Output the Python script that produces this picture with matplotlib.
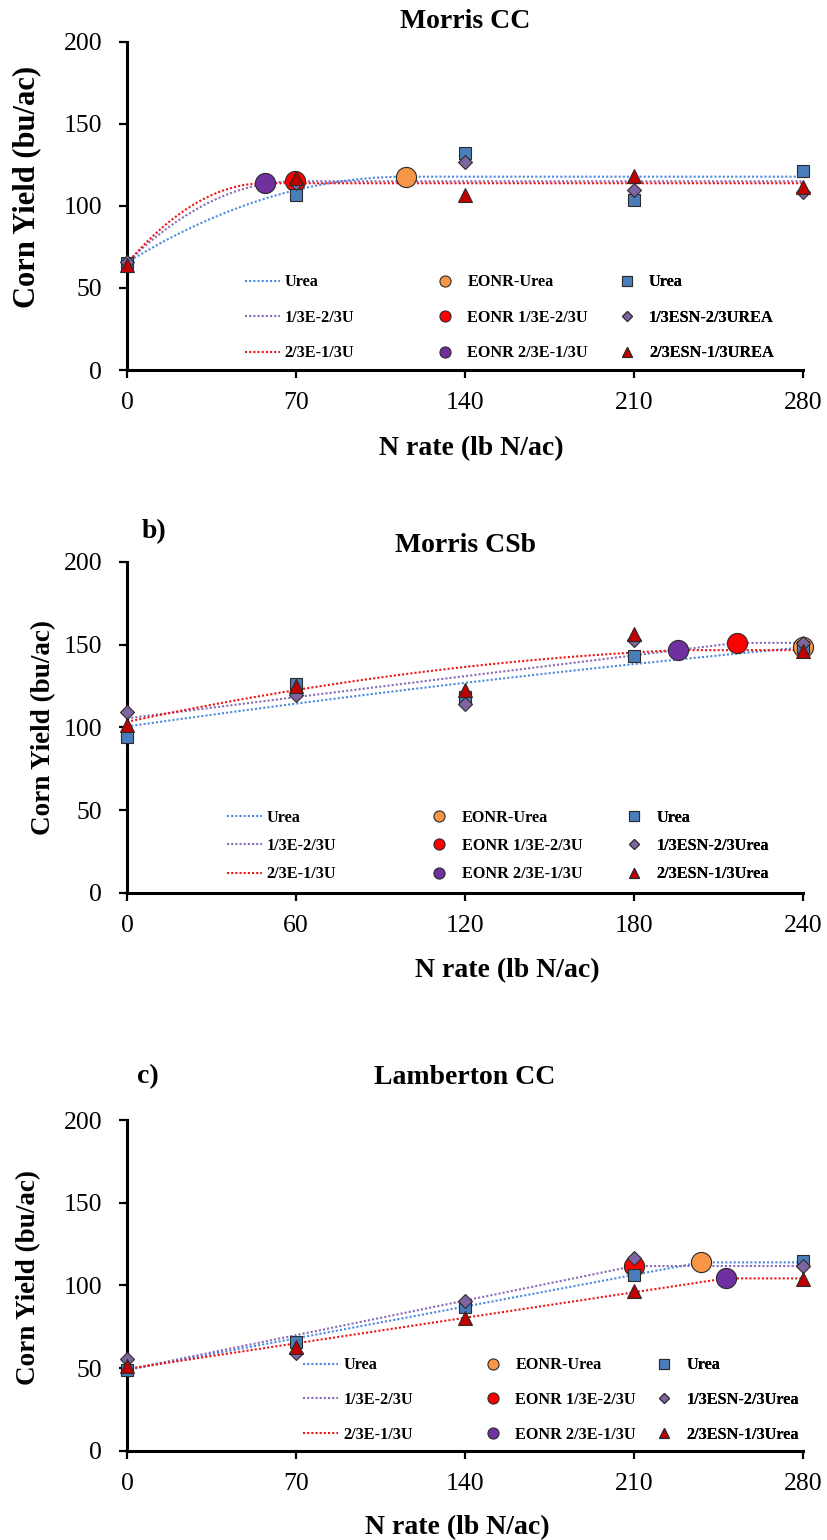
import numpy as np
import matplotlib
matplotlib.use('Agg')
import matplotlib.pyplot as plt
from matplotlib.lines import Line2D

plt.rcParams['font.family'] = ['Liberation Serif', 'DejaVu Serif']

# N rates and yields (bu/ac) by site
rates_a = [0, 70, 140, 210, 280]
urea_a = [65.5, 106.7, 132.3, 103.5, 121.4]
esn13_a = [66.0, 114.0, 126.5, 109.7, 108.7]
esn23_a = [64.0, 116.8, 106.7, 118.2, 111.4]

rates_b = [0, 60, 120, 180, 240]
urea_b = [93.9, 125.9, 118.4, 143.2, 148.3]
esn13_b = [109.4, 119.5, 114.0, 153.0, 150.7]
esn23_b = [101.3, 125.0, 122.5, 156.3, 146.0]

rates_c = [0, 70, 140, 210, 280]
urea_c = [48.8, 65.9, 87.1, 106.3, 114.7]
esn13_c = [55.4, 58.9, 90.5, 116.3, 111.7]
esn23_c = [51.2, 62.5, 80.0, 96.8, 103.6]

# quadratic-plateau fits, order: Urea, 1/3E-2/3U, 2/3E-1/3U
# yield = a + b*N + c*N^2 up to the join (EONR), flat after it
fit_a_int = [65.5, 65.5, 65.0]
fit_a_lin = [0.9049, 1.42447, 1.71228]
fit_a_quad = [-0.003914, -0.010248, -0.015020]
eonr_a = [115.6, 69.5, 57.0]

fit_b_int = [100.5, 105.4, 103.3]
fit_b_lin = [0.24, 0.2148, 0.3636]
fit_b_quad = [-0.00017, -0.0000191, -0.000727]
eonr_b = [240.0, 216.5, 195.5]

fit_c_int = [48.8, 49.0, 49.5]
fit_c_lin = [0.274, 0.2986, 0.2206]
fit_c_quad = [0.0, 0.0, 0.0]
eonr_c = [237.6, 210.0, 248.0]

fit_names = ['Urea', '1/3E-2/3U', '2/3E-1/3U']
eonr_names = ['EONR-Urea', 'EONR 1/3E-2/3U', 'EONR 2/3E-1/3U']

line_colors = ['#4A8BDF', '#8A6BB5', '#F01414']
eonr_colors = ['#F79646', '#FF0000', '#7030A0']
pt_colors = ['#4A7EBB', '#8064A2', '#C00000']
pt_markers = ['s', 'D', '^']
pt_sizes = [9, 7, 10]
leg_sizes = [7, 5, 7.5]
dots = (0, (1, 1))
edge = '#2B2B2B'

fig = plt.figure(figsize=(8.28, 15.4), dpi=100)


def qp(n, a, b, c, nj):
    nn = np.minimum(n, nj)
    return a + b * nn + c * nn ** 2


def panel(rect, rates, series, pt_names, fits, eonrs, xticks,
          title, tag, ylab_size, ylab_xy, xlab_xy, title_y, tag_xy,
          leg_y, leg_x, leg_gap):
    ax = fig.add_axes(rect)
    xmax = rates[-1]
    n = np.linspace(0, xmax, 400)
    ints, lins, quads = fits

    for i in range(3):
        ax.plot(n, qp(n, ints[i], lins[i], quads[i], eonrs[i]),
                color=line_colors[i], ls=dots, lw=1.5, zorder=2)
    for i in range(3):
        ey = qp(eonrs[i], ints[i], lins[i], quads[i], eonrs[i])
        ax.plot([eonrs[i]], [ey], 'o', ms=14.5, mfc=eonr_colors[i],
                mec=edge, mew=0.8, clip_on=False, zorder=3)
    for i in range(3):
        ax.plot(rates, series[i], pt_markers[i], ms=pt_sizes[i],
                mfc=pt_colors[i], mec=edge, mew=0.8, ls='none',
                clip_on=False, zorder=4 + i)

    ax.set_xlim(0, xmax)
    ax.set_ylim(0, 200)
    ax.set_xticks(xticks)
    ax.set_yticks([0, 50, 100, 150, 200])
    for s in ['top', 'right']:
        ax.spines[s].set_visible(False)
    for s in ['left', 'bottom']:
        ax.spines[s].set_linewidth(2.2)
    ax.tick_params(axis='both', direction='out', length=6, width=1.6,
                   labelsize=18.5)
    ax.tick_params(axis='y', pad=12)
    ax.tick_params(axis='x', pad=10)

    ax.set_ylabel('Corn Yield (bu/ac)', fontsize=ylab_size,
                  fontweight='bold', va='center')
    ax.yaxis.set_label_coords(*ylab_xy)
    ax.set_xlabel('N rate (lb N/ac)', fontsize=20, fontweight='bold',
                  va='center')
    ax.xaxis.set_label_coords(*xlab_xy)
    ax.text(0.5, title_y, title, transform=ax.transAxes, fontsize=20,
            fontweight='bold', ha='center', va='center')
    if tag:
        ax.text(tag_xy[0], tag_xy[1], tag, transform=ax.transAxes,
                fontsize=20, fontweight='bold', ha='center', va='center')

    # legend laid out as three separate columns
    col1 = [Line2D([], [], color=line_colors[i], ls=dots, lw=1.5)
            for i in range(3)]
    col2 = [Line2D([], [], marker='o', ls='none', ms=8,
                   mfc=eonr_colors[i], mec=edge, mew=0.8)
            for i in range(3)]
    col3 = [Line2D([], [], marker=pt_markers[i], ls='none', ms=leg_sizes[i],
                   mfc=pt_colors[i], mec=edge, mew=0.8)
            for i in range(3)]
    cols = [(col1, fit_names), (col2, eonr_names), (col3, pt_names)]
    for (handles, labels), lx in zip(cols, leg_x):
        leg = ax.legend(handles, labels, loc='center left',
                        bbox_to_anchor=(lx, leg_y), frameon=False,
                        borderpad=0, borderaxespad=0, handlelength=2.15,
                        handletextpad=0.3, labelspacing=leg_gap,
                        prop={'weight': 'bold', 'size': 11.7})
        ax.add_artist(leg)
    return ax


panel([0.1534, 0.7597, 0.8164, 0.2132], rates_a,
      [urea_a, esn13_a, esn23_a],
      ['Urea', '1/3ESN-2/3UREA', '2/3ESN-1/3UREA'],
      (fit_a_int, fit_a_lin, fit_a_quad), eonr_a,
      [0, 70, 140, 210, 280], 'Morris CC', None, 22,
      (-0.148, 0.558), (0.51, -0.24), 1.062, None,
      0.159, [0.1746, 0.4445, 0.7133], 1.2)

panel([0.1534, 0.4203, 0.8164, 0.2149], rates_b,
      [urea_b, esn13_b, esn23_b],
      ['Urea', '1/3ESN-2/3Urea', '2/3ESN-1/3Urea'],
      (fit_b_int, fit_b_lin, fit_b_quad), eonr_b,
      [0, 60, 120, 180, 240], 'Morris CSb', 'b)', 19.5,
      (-0.123, 0.498), (0.563, -0.236), 1.05, (0.04, 1.091),
      0.141, [0.1473, 0.4364, 0.7245], 0.75)

panel([0.1534, 0.0580, 0.8164, 0.2147], rates_c,
      [urea_c, esn13_c, esn23_c],
      ['Urea', '1/3ESN-2/3Urea', '2/3ESN-1/3Urea'],
      (fit_c_int, fit_c_lin, fit_c_quad), eonr_c,
      [0, 70, 140, 210, 280], 'Lamberton CC', 'c)', 19.5,
      (-0.145, 0.525), (0.488, -0.232), 1.13, (0.031, 1.13),
      0.153, [0.261, 0.5155, 0.769], 1.15)

fig.savefig('out.png', dpi=100)
